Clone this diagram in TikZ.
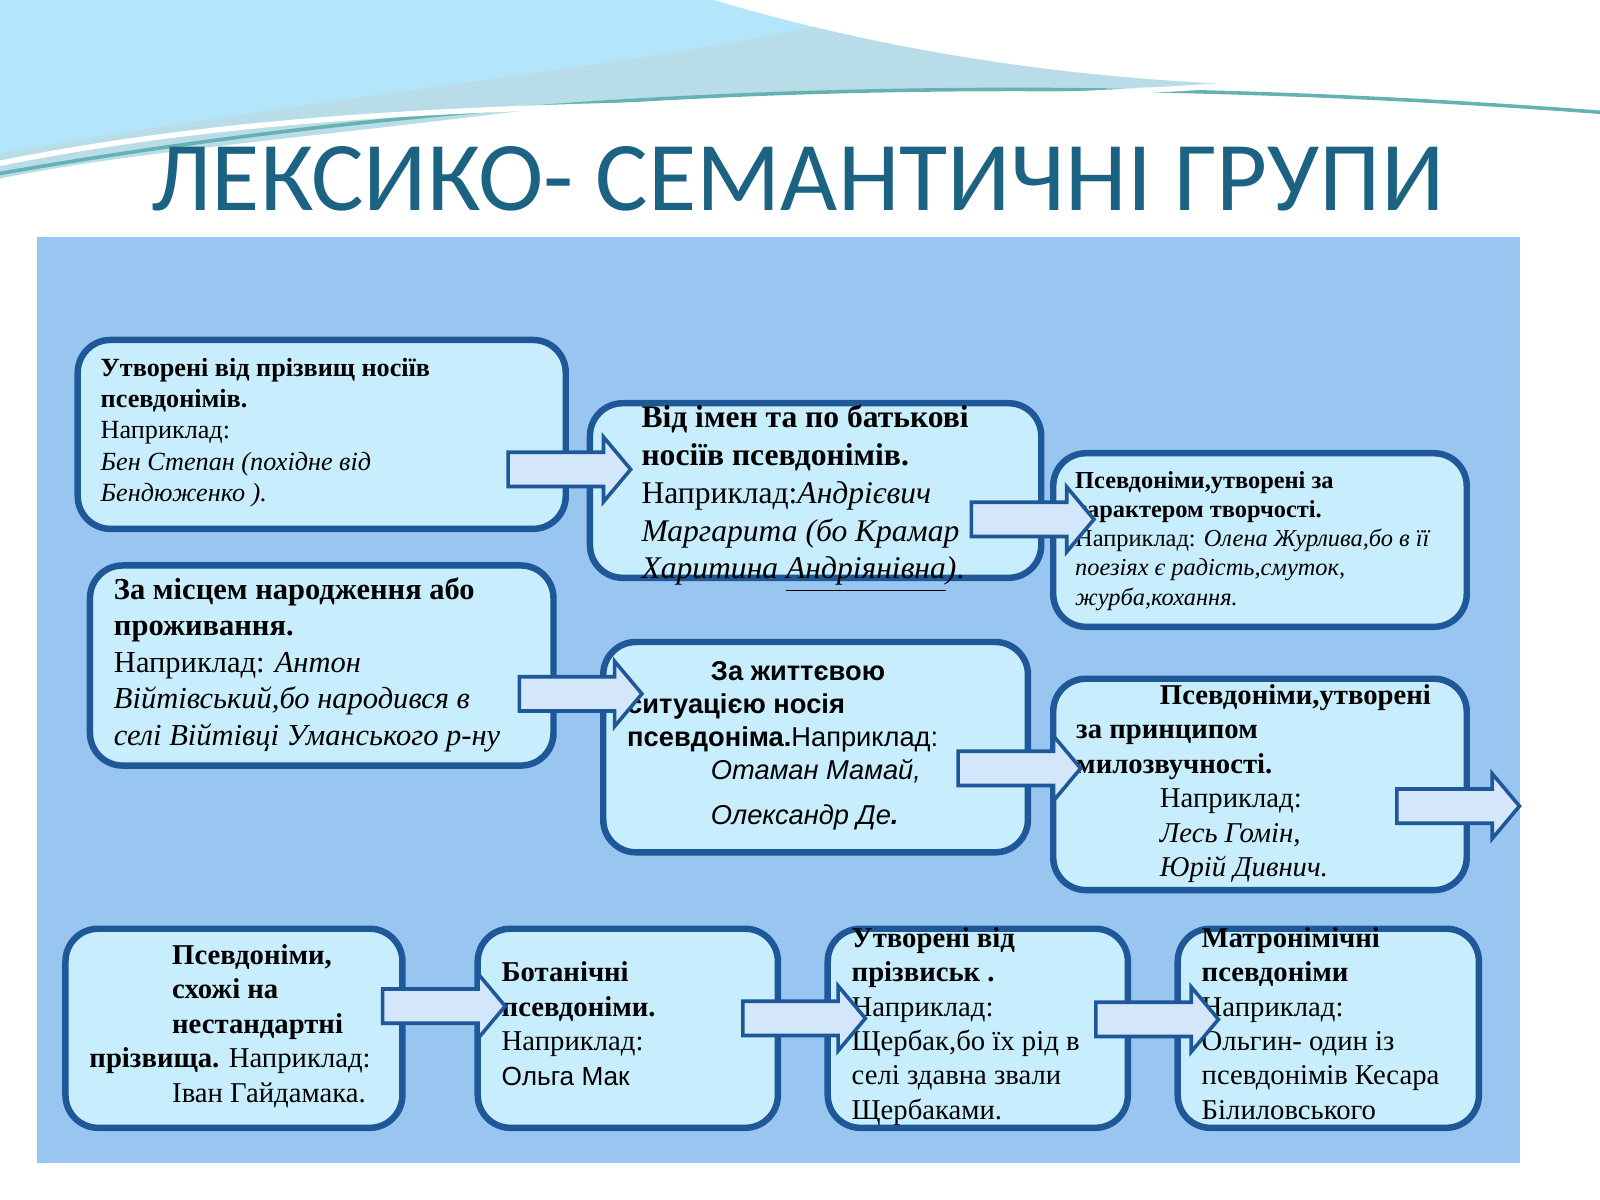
\documentclass[tikz,border=0pt]{standalone}
\usepackage{fontspec}
\setmainfont{Liberation Serif}
\setsansfont{Liberation Sans}
\newfontfamily\titlefont{Carlito}
\usetikzlibrary{shapes.arrows}
\definecolor{panel}{HTML}{99C6F0}
\definecolor{boxfill}{HTML}{C8EDFC}
\definecolor{boxline}{HTML}{1E5898}
\definecolor{arrfill}{HTML}{D3E6FA}
\definecolor{titleblue}{HTML}{1C6282}
\tikzset{
  gblock/.style={rectangle, draw=boxline, fill=boxfill, line width=1.8pt, rounded corners=0.32cm, anchor=north west},
  gtext/.style={anchor=north west, align=left, inner sep=0pt},
  barrow/.style={single arrow, draw=boxline, fill=arrfill, line width=1pt, inner xsep=0pt, inner ysep=0.15cm, minimum height=1.2cm, single arrow head extend=0.15cm, single arrow tip angle=100}
}
\newcommand{\fs}[1]{\fontsize{#1}{1.2\dimexpr#1pt\relax}\selectfont}
\begin{document}
\begin{tikzpicture}[x=0.01cm, y=-0.01cm]
    \useasboundingbox (0,0) rectangle (1568,1176);
    % waves at the top
    \fill[cyan!45!teal!30] (0,0) -- (1568,0) -- (1568,40) .. controls (1300,120) and (900,60) .. (500,110) .. controls (300,135) and (120,150) .. (0,175) -- cycle;
    \fill[cyan!30] (0,0) -- (900,0) .. controls (700,60) and (400,80) .. (0,150) -- cycle;
    \fill[white] (700,0) .. controls (900,60) and (1200,110) .. (1568,70) -- (1568,0) -- cycle;
    \draw[teal!60, line width=1pt] (0,170) .. controls (400,100) and (900,60) .. (1568,110);
    \draw[white, line width=1.5pt] (0,160) .. controls (500,60) and (1000,140) .. (1568,40);
    \node[font=\titlefont\fontsize{27.5}{33}\selectfont, text=titleblue] (title) at (782,175) {ЛЕКСИКО- СЕМАНТИЧНІ ГРУПИ};
    % panel
    \fill[panel] (36,232) rectangle (1490,1140);
    % boxes
    \node[gblock, minimum width=4.78cm, minimum height=1.85cm] (byname) at (73,330) {};
    \node[gblock, minimum width=4.42cm, minimum height=1.71cm] (bypatr) at (575,392) {};
    \node[gblock, minimum width=4.05cm, minimum height=1.70cm] (bywork) at (1029,441) {};
    \node[gblock, minimum width=4.54cm, minimum height=1.96cm] (byplace) at (85,551) {};
    \node[gblock, minimum width=4.16cm, minimum height=2.06cm] (bylife) at (588,626) {};
    \node[gblock, minimum width=4.05cm, minimum height=2.07cm] (bysound) at (1029,662) {};
    \node[gblock, minimum width=3.30cm, minimum height=1.95cm] (bysurn) at (61,907) {};
    \node[gblock, minimum width=2.94cm, minimum height=1.95cm] (botan) at (465,907) {};
    \node[gblock, minimum width=2.94cm, minimum height=1.95cm] (nick) at (808,907) {};
    \node[gblock, minimum width=2.95cm, minimum height=1.95cm] (matron) at (1151,907) {};
    % texts
    \node[gtext, font=\fs{7.3}] (tbyname) at (98,350) {\textbf{Утворені від прізвищ носіїв}\\ \textbf{псевдонімів.}\\ Наприклад:\\ \textit{Бен Степан (похідне від}\\ \textit{Бендюженко ).}};
    \node[gtext, font=\fs{8.8}] (tbypatr) at (628,396) {\textbf{Від імен та по батькові}\\ \textbf{носіїв псевдонімів.}\\ Наприклад:\textit{Андрієвич}\\ \textit{Маргарита (бо Крамар}\\ \textit{Харитина \underline{Андріянівна})}.};
    \node[gtext, font=\fs{6.8}] (tbywork) at (1053,461) {\textbf{Псевдоніми,утворені за}\\ \textbf{характером творчості.}\\ Наприклад: \textit{Олена Журлива,бо в її}\\ \textit{поезіях є радість,смуток,}\\ \textit{журба,кохання.}};
    \node[gtext, font=\fs{8.5}] (tbyplace) at (111,565) {\textbf{За місцем народження або}\\ \textbf{проживання.}\\ Наприклад: \textit{Антон}\\ \textit{Війтівський,бо народився в}\\ \textit{селі Війтівці Уманського р-ну}};
    \node[gtext, font=\sffamily\fs{7.6}] (tbylife) at (614,648) {\hspace*{0.82cm}\textbf{За життєвою}\\ \textbf{ситуацією носія}\\ \textbf{псевдоніма.}Наприклад:\\ \hspace*{0.82cm}\textit{Отаман Мамай,}\\[0.12cm] \hspace*{0.82cm}\textit{Олександр Де\textbf{.}}};
    \node[gtext, font=\fs{8}] (tbysound) at (1054,670) {\hspace*{0.82cm}\textbf{Псевдоніми,утворені}\\ \textbf{за принципом}\\ \textbf{милозвучності.}\\ \hspace*{0.82cm}Наприклад:\\ \hspace*{0.82cm}\textit{Лесь Гомін,}\\ \hspace*{0.82cm}\textit{Юрій Дивнич.}};
    \node[gtext, font=\fs{8}] (tbysurn) at (87,925) {\hspace*{0.81cm}\textbf{Псевдоніми,}\\ \hspace*{0.81cm}\textbf{схожі на}\\ \hspace*{0.81cm}\textbf{нестандартні}\\ \textbf{прізвища.} Наприклад:\\ \hspace*{0.81cm}Іван Гайдамака.};
    \node[gtext, font=\fs{8}] (tbotan) at (491,942) {\textbf{Ботанічні}\\ \textbf{псевдоніми.}\\ Наприклад:\\ {\sffamily\fs{7.3}Ольга Мак}};
    \node[gtext, font=\fs{8}] (tnick) at (834,908) {\textbf{Утворені від}\\ \textbf{прізвиськ .}\\ Наприклад:\\ Щербак,бо їх рід в\\ селі здавна звали\\ Щербаками.};
    \node[gtext, font=\fs{8}] (tmatron) at (1177,908) {\textbf{Матронімічні}\\ \textbf{псевдоніми}\\ Наприклад:\\ Ольгин- один із\\ псевдонімів Кесара\\ Білиловського};
    % block arrows
    \node[barrow] (a1) at (551,460) {};
    \node[barrow] (a2) at (1005,509) {};
    \node[barrow] (a3) at (562,680) {};
    \node[barrow] (a4) at (992,753) {};
    \node[barrow] (a5) at (1422,790) {};
    \node[barrow] (a6) at (428,986) {};
    \node[barrow] (a7) at (781,998) {};
    \node[barrow] (a8) at (1127,999) {};
\end{tikzpicture}
\end{document}
